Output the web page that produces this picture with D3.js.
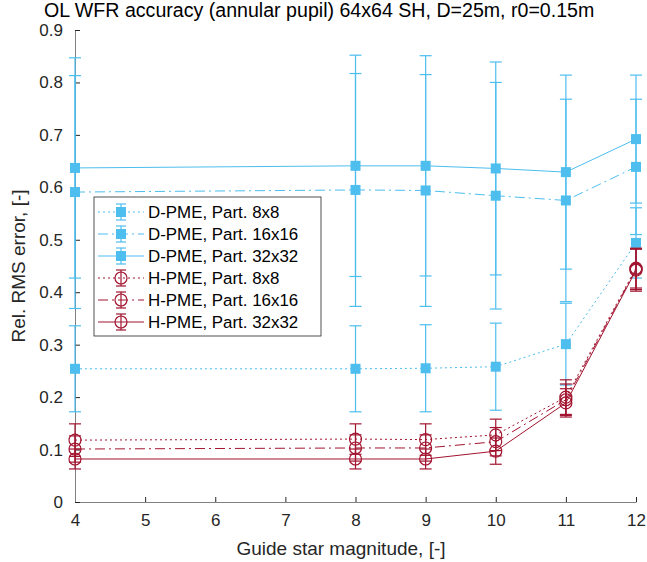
<!DOCTYPE html>
<html>
<head>
<meta charset="utf-8">
<script src="https://cdn.jsdelivr.net/npm/d3@7"></script>
<style>
  body { margin: 0; background: #fff; }
  text { font-family: "Liberation Sans", Arial, sans-serif; }
</style>
</head>
<body>
<div id="chart"></div>
<script>
// Guide star magnitudes
const magnitudes = [4, 8, 9, 10, 11, 12];

// D-PME means and half-widths of error bars
const dpme8 = [0.254, 0.254, 0.255, 0.258, 0.301, 0.494];
const dpme8Err = [0.082, 0.082, 0.083, 0.083, 0.078, 0.067];
const dpme16 = [0.591, 0.595, 0.594, 0.584, 0.575, 0.639];
const dpme16Err = [0.222, 0.222, 0.221, 0.216, 0.193, 0.129];
const dpme32 = [0.637, 0.641, 0.641, 0.636, 0.629, 0.692];
const dpme32Err = [0.21, 0.211, 0.21, 0.203, 0.185, 0.122];

// H-PME means and half-widths of error bars
const hpme8 = [0.118, 0.120, 0.119, 0.128, 0.200, 0.446];
const hpme8Err = [0.031, 0.029, 0.030, 0.030, 0.033, 0.038];
const hpme16 = [0.101, 0.103, 0.103, 0.115, 0.195, 0.444];
const hpme16Err = [0.025, 0.025, 0.025, 0.027, 0.030, 0.039];
const hpme32 = [0.082, 0.082, 0.082, 0.097, 0.189, 0.442];
const hpme32Err = [0.019, 0.019, 0.019, 0.025, 0.027, 0.040];

const xTicks = [4, 5, 6, 7, 8, 9, 10, 11, 12];
const yTicks = [0, 0.1, 0.2, 0.3, 0.4, 0.5, 0.6, 0.7, 0.8, 0.9];

const blue = "#4DBEEE";
const red = "#A2142F";
const dotted = "2,3";
const dashDot = "10,4,2,4";

const series = [
  { name: "D-PME, Part. 8x8", vals: dpme8, err: dpme8Err, color: blue, dash: dotted, marker: "square" },
  { name: "D-PME, Part. 16x16", vals: dpme16, err: dpme16Err, color: blue, dash: dashDot, marker: "square" },
  { name: "D-PME, Part. 32x32", vals: dpme32, err: dpme32Err, color: blue, dash: null, marker: "square" },
  { name: "H-PME, Part. 8x8", vals: hpme8, err: hpme8Err, color: red, dash: dotted, marker: "circle" },
  { name: "H-PME, Part. 16x16", vals: hpme16, err: hpme16Err, color: red, dash: dashDot, marker: "circle" },
  { name: "H-PME, Part. 32x32", vals: hpme32, err: hpme32Err, color: red, dash: null, marker: "circle" }
];

const W = 647, H = 562;
const svg = d3.select("#chart").append("svg")
  .attr("width", W).attr("height", H);

const x = d3.scaleLinear().domain([4, 12]).range([75, 636]);
const y = d3.scaleLinear().domain([0, 0.9]).range([502, 30]);

// Axes
const xAxis = d3.axisBottom(x).tickValues(xTicks).tickSizeInner(-5).tickSizeOuter(0).tickPadding(12)
  .tickFormat(d3.format("d"));
const yAxis = d3.axisLeft(y).tickValues(yTicks).tickSizeInner(-5).tickSizeOuter(0).tickPadding(12)
  .tickFormat(d => d === 0 ? "0" : d3.format(".1f")(d));

const gx = svg.append("g").attr("transform", `translate(0,${y(0)})`).call(xAxis);
const gy = svg.append("g").attr("transform", `translate(${x(4)},0)`).call(yAxis);
[gx, gy].forEach(g => {
  g.select(".domain").attr("stroke", "#808080");
  g.selectAll(".tick line").attr("stroke", "#262626");
  g.selectAll(".tick text").attr("fill", "#262626").attr("font-size", 17);
});
gx.selectAll(".tick text").attr("dy", "0.71em");

// Data layers
const cap = 6;
series.forEach(s => {
  const pts = magnitudes.map((m, i) => ({ m, v: s.vals[i], e: s.err[i] }));
  const g = svg.append("g");

  g.append("path")
    .datum(pts)
    .attr("fill", "none")
    .attr("stroke", s.color)
    .attr("stroke-width", 1)
    .attr("stroke-dasharray", s.dash)
    .attr("d", d3.line().x(d => x(d.m)).y(d => y(d.v)));

  const bars = g.selectAll("g.bar").data(pts).join("g").attr("class", "bar")
    .attr("stroke", s.color).attr("stroke-width", 1.2);
  bars.append("line")
    .attr("x1", d => x(d.m)).attr("x2", d => x(d.m))
    .attr("y1", d => y(d.v - d.e)).attr("y2", d => y(d.v + d.e));
  bars.append("line")
    .attr("x1", d => x(d.m) - cap).attr("x2", d => x(d.m) + cap)
    .attr("y1", d => y(d.v + d.e)).attr("y2", d => y(d.v + d.e));
  bars.append("line")
    .attr("x1", d => x(d.m) - cap).attr("x2", d => x(d.m) + cap)
    .attr("y1", d => y(d.v - d.e)).attr("y2", d => y(d.v - d.e));

  if (s.marker === "square") {
    g.selectAll("rect.mk").data(pts).join("rect").attr("class", "mk")
      .attr("x", d => x(d.m) - 5).attr("y", d => y(d.v) - 5)
      .attr("width", 10).attr("height", 10)
      .attr("fill", s.color);
  } else {
    g.selectAll("circle.mk").data(pts).join("circle").attr("class", "mk")
      .attr("cx", d => x(d.m)).attr("cy", d => y(d.v)).attr("r", 6)
      .attr("fill", "none").attr("stroke", s.color).attr("stroke-width", 1.2);
  }
});

// Legend
const lg = svg.append("g").attr("transform", "translate(94,197)");
lg.append("rect").attr("width", 227).attr("height", 139)
  .attr("fill", "#fff").attr("stroke", "#262626").attr("stroke-width", 0.8);
series.forEach((s, i) => {
  const cy = 15 + i * 22;
  const row = lg.append("g").attr("transform", `translate(0,${cy})`);
  row.append("line").attr("x1", 4).attr("x2", 50).attr("y1", 0).attr("y2", 0)
    .attr("stroke", s.color).attr("stroke-dasharray", s.dash);
  const eb = row.append("g").attr("stroke", s.color).attr("stroke-width", 1.2);
  eb.append("line").attr("x1", 27).attr("x2", 27).attr("y1", -8).attr("y2", 8);
  eb.append("line").attr("x1", 22).attr("x2", 32).attr("y1", -8).attr("y2", -8);
  eb.append("line").attr("x1", 22).attr("x2", 32).attr("y1", 8).attr("y2", 8);
  if (s.marker === "square") {
    row.append("rect").attr("x", 22).attr("y", -5).attr("width", 10).attr("height", 10).attr("fill", s.color);
  } else {
    row.append("circle").attr("cx", 27).attr("cy", 0).attr("r", 6)
      .attr("fill", "none").attr("stroke", s.color).attr("stroke-width", 1.2);
  }
  row.append("text").attr("x", 54).attr("y", 0).attr("dy", "0.35em")
    .attr("font-size", 16.9).attr("fill", "#000").text(s.name);
});

// Titles
svg.append("text").attr("x", 44).attr("y", 17)
  .attr("font-size", 19.6).attr("fill", "#000")
  .text("OL WFR accuracy (annular pupil) 64x64 SH, D=25m, r0=0.15m");
svg.append("text").attr("x", 341).attr("y", 555)
  .attr("text-anchor", "middle").attr("font-size", 19).attr("fill", "#262626")
  .text("Guide star magnitude, [-]");
svg.append("text")
  .attr("transform", `translate(25,${(y(0) + y(0.9)) / 2}) rotate(-90)`)
  .attr("text-anchor", "middle").attr("font-size", 19).attr("fill", "#262626")
  .text("Rel. RMS error, [-]");
</script>
</body>
</html>
